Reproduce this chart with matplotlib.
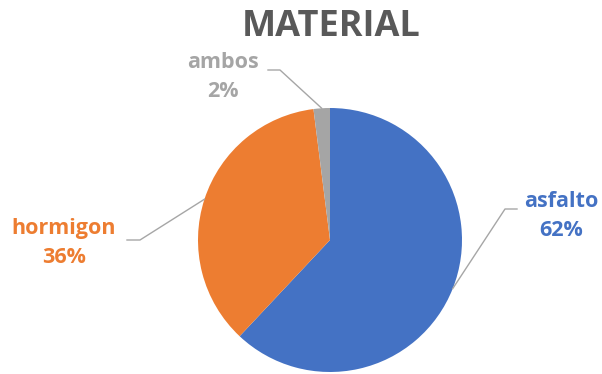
import numpy as np
import matplotlib.pyplot as plt

labels = ['asfalto', 'hormigon', 'ambos']
values = [62, 36, 2]
colors = ['#4472C4', '#ED7D31', '#A5A5A5']

plt.rcParams['font.family'] = ['Open Sans', 'DejaVu Sans']

W, H = 602, 374
fig = plt.figure(figsize=(W / 100, H / 100), dpi=100)
ax = fig.add_axes([0, 0, 1, 1])

cx, cy, r = 330, H - 240, 132
wedges, _ = ax.pie(values, colors=colors, startangle=90, counterclock=False,
                   center=(cx, cy), radius=r, frame=True,
                   wedgeprops=dict(linewidth=0))
ax.set_xlim(0, W)
ax.set_ylim(0, H)
ax.set_aspect('equal')
ax.axis('off')

# label text position (pixels from top-left) and elbow of leader line
label_pos = {'asfalto': (561, 216), 'hormigon': (64, 243), 'ambos': (223, 77)}
elbow = {'asfalto': [(517, 209), (505, 209)],
         'hormigon': [(127, 240), (140, 240)],
         'ambos': [(268, 70), (280, 70)]}

total = sum(values)
for w, lab, v, c in zip(wedges, labels, values, colors):
    ang = np.deg2rad((w.theta1 + w.theta2) / 2)
    ex, ey = cx + r * np.cos(ang), cy + r * np.sin(ang)
    pts = [(x, H - y) for x, y in elbow[lab]] + [(ex, ey)]
    xs, ys = zip(*pts)
    ax.plot(xs, ys, color='#A6A6A6', lw=1)
    tx, ty = label_pos[lab]
    ax.text(tx, H - ty, f'{lab}\n{round(v / total * 100)}%', color=c,
            fontsize=15.5, fontweight='bold', ha='center', va='center',
            linespacing=1.55)

fig.text(331 / W, 1 - 27 / H, 'MATERIAL', color='#595959', fontsize=26,
         fontweight='bold', ha='center', va='center')

fig.savefig('out.png', dpi=100)
